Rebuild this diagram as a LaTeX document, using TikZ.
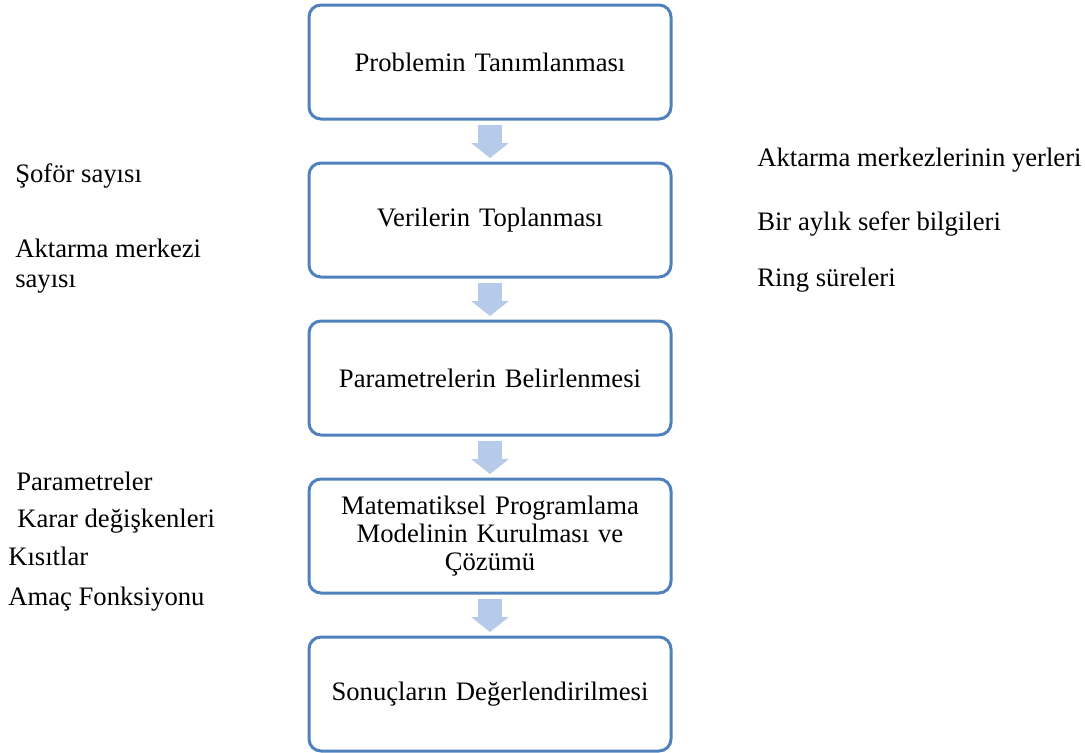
\documentclass[tikz,border=0pt]{standalone}
\usepackage{fontspec}
\setmainfont{Liberation Serif}
\usetikzlibrary{positioning, arrows.meta}

\definecolor{boxblue}{RGB}{79,129,189}
\definecolor{arrowblue}{RGB}{182,202,233}

\begin{document}
\begin{tikzpicture}[
            x=0.75pt, y=-0.75pt,
            node distance=33pt,
            font=\fontsize{20}{21}\selectfont,
            step_box/.style={rectangle, draw=boxblue, line width=2.25pt, rounded corners=9pt, minimum width=271.5pt, minimum height=85.5pt, text width=250pt, align=center, outer sep=0pt},
            side_note/.style={anchor=base west, inner sep=0pt, align=left},
            flow_arrow/.style={draw=arrowblue, line width=18pt, -{Triangle[length=11.25pt, width=27.75pt]}}
        ]
            \useasboundingbox (0,0) rectangle (1085,753);

            % --- Steps of the study ---
            \node[step_box] (problem) at (490,62) {Problemin Tanımlanması};
            \node[step_box, below=of problem] (data) {Verilerin Toplanması};
            \node[step_box, below=of data] (params) {Parametrelerin Belirlenmesi};
            \node[step_box, below=of params] (model) {Matematiksel Programlama\\Modelinin Kurulması ve\\Çözümü};
            \node[step_box, below=of model] (results) {Sonuçların Değerlendirilmesi};

            % --- Arrows between the steps ---
            \draw[flow_arrow] ([yshift=-4.5pt]problem.south) -- ([yshift=3.75pt]data.north);
            \draw[flow_arrow] ([yshift=-4.5pt]data.south) -- ([yshift=3.75pt]params.north);
            \draw[flow_arrow] ([yshift=-4.5pt]params.south) -- ([yshift=3.75pt]model.north);
            \draw[flow_arrow] ([yshift=-4.5pt]model.south) -- ([yshift=3.75pt]results.north);

            % --- Notes on the left ---
            \node[side_note] (drivers) at (15,182) {Şoför sayısı};
            \node[side_note, font=\fontsize{20}{22.5}\selectfont] (centres) at (15,287) {Aktarma merkezi\\sayısı};
            \node[side_note] (paramlist) at (16,490) {Parametreler};
            \node[side_note] (decision) at (17,527) {Karar değişkenleri};
            \node[side_note] (constraints) at (8,565) {Kısıtlar};
            \node[side_note] (objective) at (8,605) {Amaç Fonksiyonu};

            % --- Notes on the right ---
            \node[side_note] (locations) at (757,166) {Aktarma merkezlerinin yerleri};
            \node[side_note] (trips) at (757,230) {Bir aylık sefer bilgileri};
            \node[side_note] (ringtimes) at (757,286) {Ring süreleri};

        \end{tikzpicture}
\end{document}
